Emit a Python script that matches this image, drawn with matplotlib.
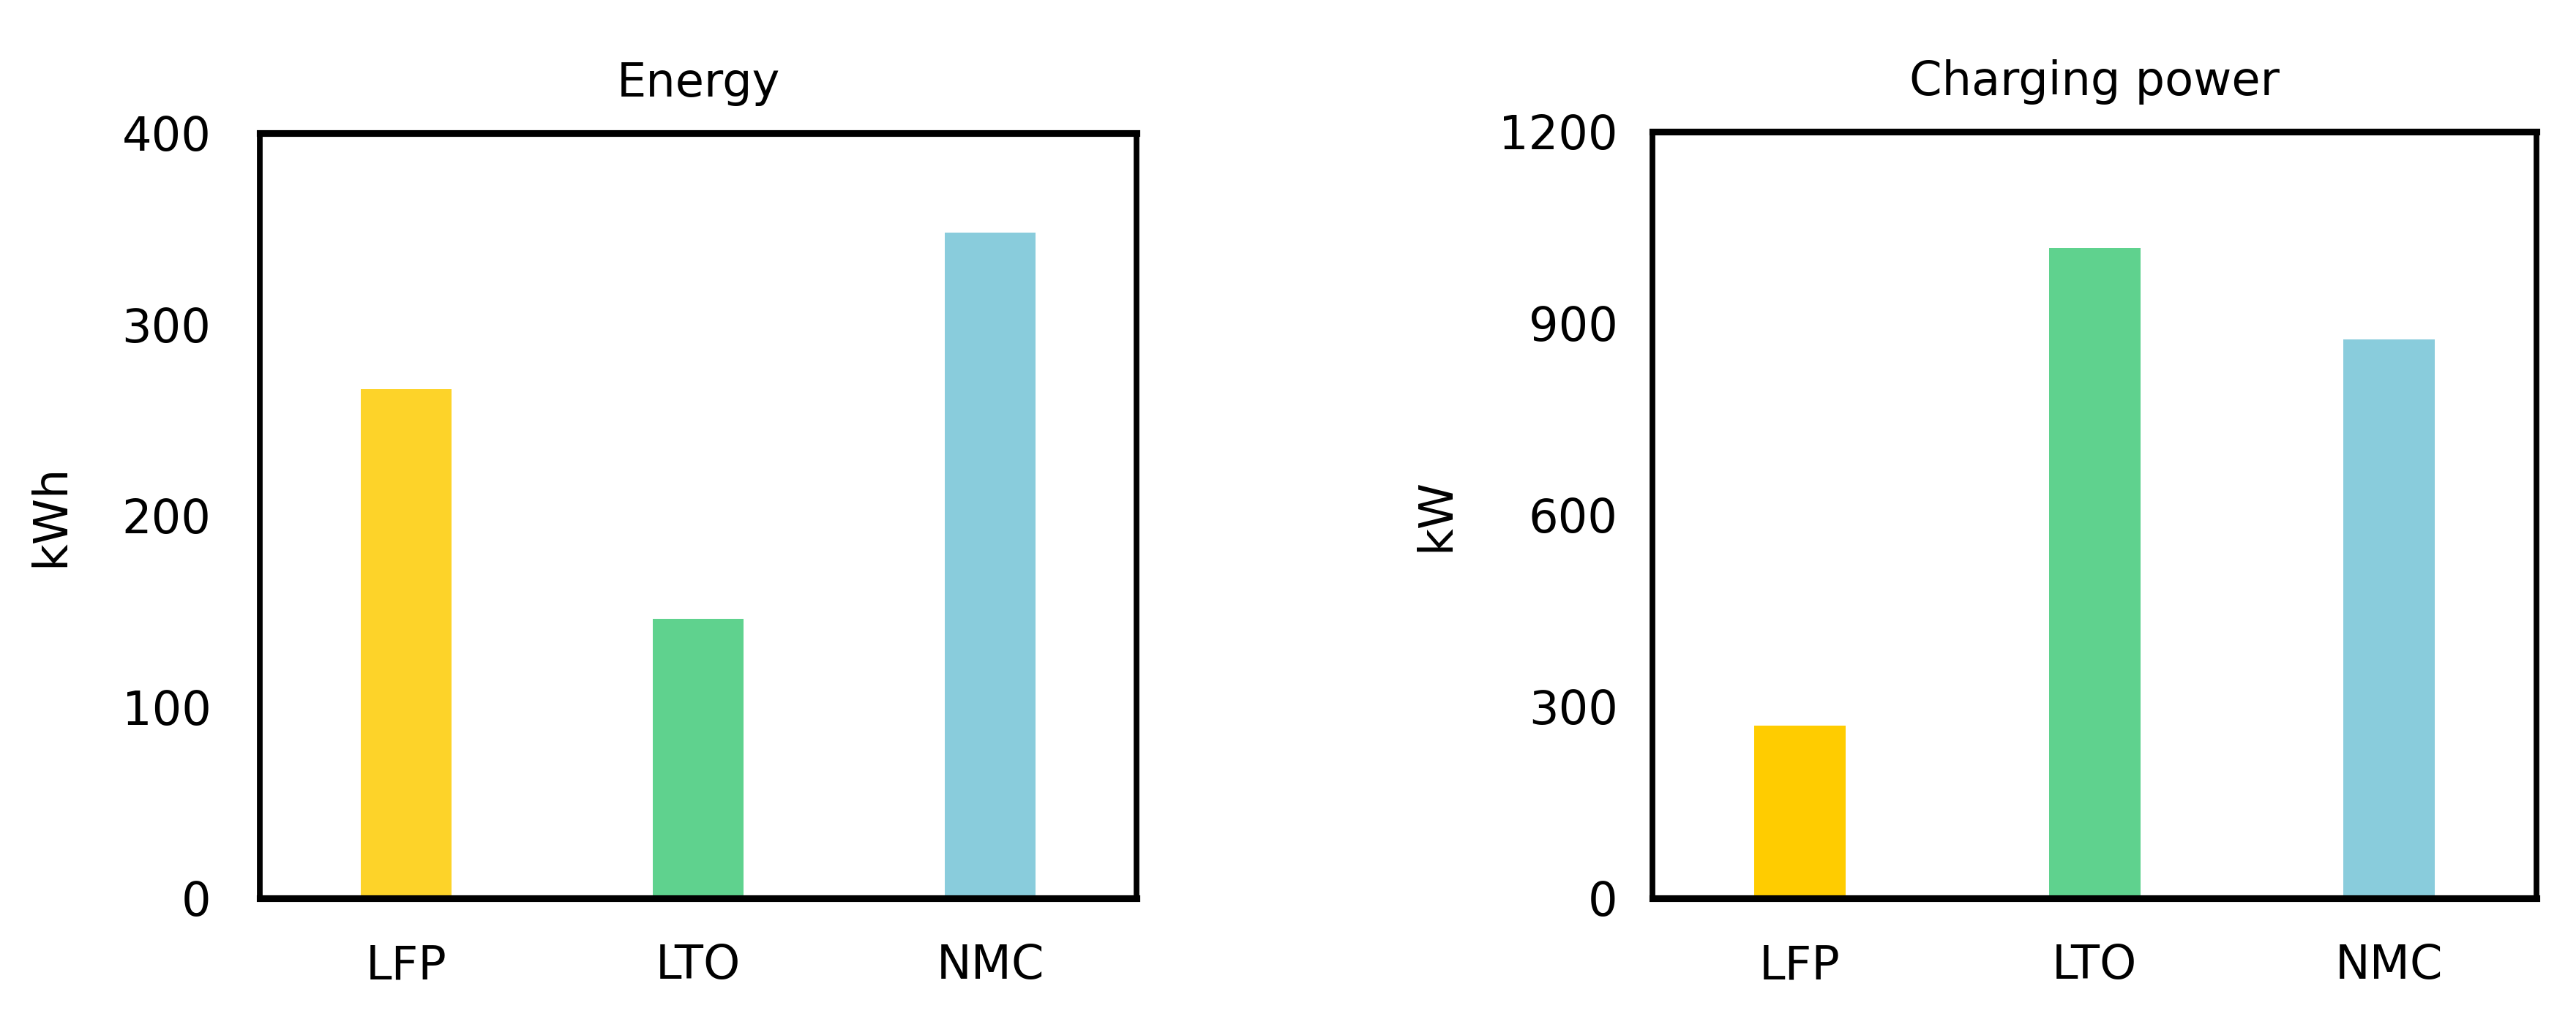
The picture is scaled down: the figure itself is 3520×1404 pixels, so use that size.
import matplotlib.pyplot as plt

# 데이터
chemistries = ["LFP", "LTO", "NMC"]
energy_kwh = [266, 146, 348]
power_kw = [270, 1018, 875]

energy_colors = ["#FDD329", "#5FD28E", "#89CCDC"]
power_colors = ["#FFCC00", "#5FD28E", "#89CCDC"]

plt.rcParams['font.family'] = ['DejaVu Sans']

fig = plt.figure(figsize=(17.6, 7.02), dpi=200)
ax1 = fig.add_axes([0.1009, 0.1254, 0.3403, 0.7450])
ax2 = fig.add_axes([0.6415, 0.1254, 0.3432, 0.7464])


def draw(ax, values, colors, title, ylabel, ymax, yticks, ypad, lpad):
    x = range(len(chemistries))
    ax.bar(x, values, width=0.31, color=colors, zorder=2)
    ax.set_xlim(-0.5, 2.5)
    ax.set_ylim(0, ymax)
    ax.set_yticks(yticks)
    ax.set_xticks(list(x))
    ax.set_xticklabels(chemistries)
    ax.tick_params(axis='both', length=0, labelsize=23)
    ax.tick_params(axis='y', pad=ypad)
    ax.tick_params(axis='x', pad=22)
    ax.set_title(title, fontsize=23, pad=18)
    ax.set_ylabel(ylabel, fontsize=23, labelpad=lpad)
    for side in ['left', 'right']:
        ax.spines[side].set_linewidth(2.8)
    for side in ['top', 'bottom']:
        ax.spines[side].set_linewidth(3.3)


draw(ax1, energy_kwh, energy_colors, "Energy", "kWh", 400,
     [0, 100, 200, 300, 400], 24, 24)
draw(ax2, power_kw, power_colors, "Charging power", "kW", 1200,
     [0, 300, 600, 900, 1200], 17, 20)

fig.savefig("out.png", dpi=200)
